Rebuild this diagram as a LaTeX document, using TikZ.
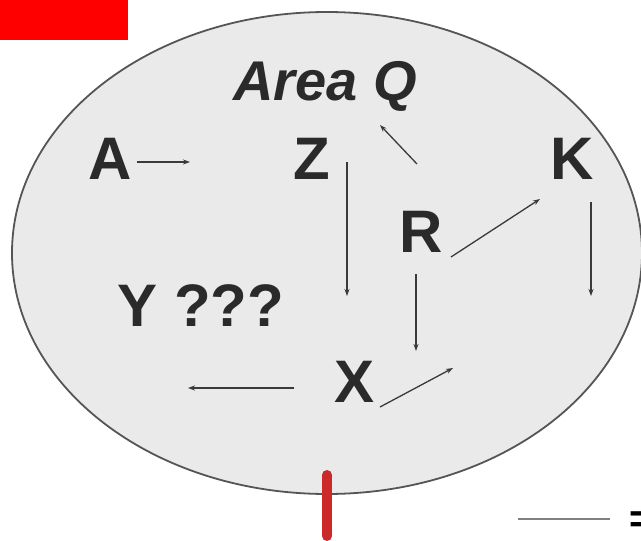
\documentclass[tikz,border=0pt]{standalone}
\usepackage{fontspec}
\setmainfont{Liberation Sans}
\usetikzlibrary{arrows.meta}
\definecolor{bgfill}{HTML}{EAEAEA}
\definecolor{rim}{HTML}{555555}
\definecolor{ink}{HTML}{2A2A2A}
\definecolor{arr}{HTML}{3A3A3A}
\definecolor{redbar}{HTML}{CC2A2A}
\tikzset{
  lbl/.style={inner sep=0pt, anchor=base, text=ink, font=\fontsize{60}{70}\selectfont\bfseries},
  arw/.style={draw=arr, line width=1.3pt, -{Stealth[length=7pt,width=5pt]}},
}
\begin{document}
\begin{tikzpicture}[x=1pt,y=-1pt]
\useasboundingbox (0,0) rectangle (641,541);
\fill[white] (0,0) rectangle (641,541);
% area ellipse
\draw[rim, fill=bgfill, line width=1.8pt] (327,253) ellipse [x radius=315, y radius=241];
% red header block
\fill[red] (0,0) rectangle (128,40);
% red bar
\draw[redbar, line width=10pt, line cap=round] (327,475) -- (327,536);
% scale line and cut-off sign
\draw[gray, line width=2pt] (518,519) -- (610,519);
\node[lbl, anchor=base west, font=\fontsize{40}{48}\selectfont\bfseries, text=black] (eq) at (629,532) {=};
% labels
\node[lbl, font=\fontsize{56}{66}\selectfont\bfseries\itshape] (areaq) at (325,100) {Area Q};
\node[lbl] (a) at (110,179) {A};
\node[lbl] (z) at (312,179) {Z};
\node[lbl] (k) at (572,179) {K};
\node[lbl] (r) at (421,252) {R};
\node[lbl] (y) at (201,326) {Y ???};
\node[lbl] (x) at (355,402) {X};
% arrow end points
\coordinate (a1) at (137,162); \coordinate (a2) at (190,162);
\coordinate (z1) at (347,162); \coordinate (z2) at (347,296);
\coordinate (q1) at (417,164); \coordinate (q2) at (380,125);
\coordinate (k1) at (451,257); \coordinate (k2) at (540,199);
\coordinate (k3) at (591,202); \coordinate (k4) at (591,296);
\coordinate (r1) at (416,274); \coordinate (r2) at (416,351);
\coordinate (x1) at (294,388); \coordinate (x2) at (188,388);
\coordinate (x3) at (380,407); \coordinate (x4) at (453,368);
% arrows
\draw[arw] (a1) -- (a2);
\draw[arw] (z1) -- (z2);
\draw[arw] (q1) -- (q2);
\draw[arw] (k1) -- (k2);
\draw[arw] (k3) -- (k4);
\draw[arw] (r1) -- (r2);
\draw[arw] (x1) -- (x2);
\draw[arw] (x3) -- (x4);
\end{tikzpicture}
\end{document}
